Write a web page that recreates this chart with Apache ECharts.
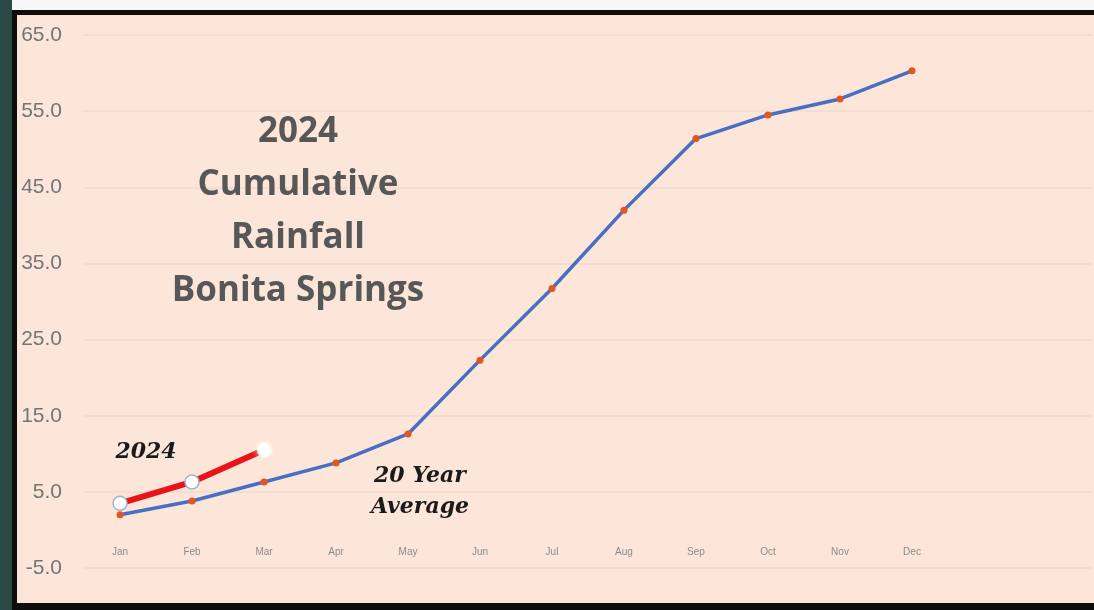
<!DOCTYPE html>
<html>
<head>
<meta charset="utf-8">
<script src="https://cdn.jsdelivr.net/npm/echarts@6/dist/echarts.min.js"></script>
<style>
html,body{margin:0;padding:0;background:#ffffff;}
#chart{width:1094px;height:610px;}
</style>
</head>
<body>
<div id="chart"></div>
<script>
const months = ['Jan','Feb','Mar','Apr','May','Jun','Jul','Aug','Sep','Oct','Nov','Dec','',''];
const avgValues = [2.0, 3.8, 6.3, 8.8, 12.6, 22.3, 31.7, 42.0, 51.4, 54.5, 56.6, 60.3];
const values2024 = [3.5, 6.3, 10.5];
const yTicks = { min: -5, max: 65, interval: 10 };
const titleLines = ['2024', 'Cumulative', 'Rainfall', 'Bonita Springs'];

const chart = echarts.init(document.getElementById('chart'));

const data2024 = values2024.map((v, i) => i === values2024.length - 1
  ? { value: v, itemStyle: { color: '#ffffff', borderColor: '#ffffff', borderWidth: 0, shadowColor: 'rgba(255,255,255,0.9)', shadowBlur: 6 } }
  : v);

const titleGraphics = titleLines.map((t, i) => ({
  type: 'text', x: 298, y: 132 + i * 53, z: 50,
  style: { text: t, fill: '#575757', font: 'bold 35px "Open Sans", Lato, sans-serif', align: 'center', verticalAlign: 'middle' }
}));

const serifFont = 'italic bold 22px "DejaVu Serif", "Liberation Serif", serif';

chart.setOption({
  backgroundColor: '#fce5d9',
  animation: false,
  grid: { left: 84, right: 2, top: 35, bottom: 42, containLabel: false },
  xAxis: {
    type: 'category',
    data: months,
    boundaryGap: true,
    axisLine: { show: false, onZero: false },
    axisTick: { show: false },
    axisLabel: { color: '#8c8c8c', fontSize: 10, margin: -21, fontFamily: '"Liberation Sans", sans-serif' },
    splitLine: { show: false }
  },
  yAxis: {
    type: 'value',
    min: yTicks.min, max: yTicks.max, interval: yTicks.interval,
    axisLine: { show: false },
    axisTick: { show: false },
    axisLabel: { color: '#757575', fontSize: 21, margin: 22, fontFamily: '"Liberation Sans", sans-serif',
      formatter: v => v.toFixed(1) },
    splitLine: { show: true, lineStyle: { color: '#f2d9cc', width: 1.5 } }
  },
  series: [
    {
      name: '20 Year Average', type: 'line', data: avgValues, z: 2,
      lineStyle: { color: '#4a6fc2', width: 3.5 },
      symbol: 'circle', symbolSize: 7,
      itemStyle: { color: '#e2571f', borderWidth: 0 }
    },
    {
      name: '2024', type: 'line', data: data2024, z: 3,
      lineStyle: { color: '#e8141a', width: 6 },
      symbol: 'circle', symbolSize: 14,
      itemStyle: { color: '#ffffff', borderColor: '#9fb3d6', borderWidth: 1.5 }
    }
  ],
  graphic: [
    ...titleGraphics,
    { type: 'text', x: 146, y: 452, z: 50,
      style: { text: '2024', fill: '#1a1a1a', font: serifFont, align: 'center', verticalAlign: 'middle' } },
    { type: 'text', x: 420, y: 476, z: 50,
      style: { text: '20 Year', fill: '#1a1a1a', font: serifFont, align: 'center', verticalAlign: 'middle' } },
    { type: 'text', x: 420, y: 507, z: 50,
      style: { text: 'Average', fill: '#1a1a1a', font: serifFont, align: 'center', verticalAlign: 'middle' } },
    { type: 'rect', z: 100, shape: { x: 0, y: 0, width: 1094, height: 10 }, style: { fill: '#f7f7f7' } },
    { type: 'rect', z: 100, shape: { x: 0, y: 0, width: 12, height: 610 }, style: { fill: '#2c4a45' } },
    { type: 'rect', z: 101, shape: { x: 12, y: 10, width: 1082, height: 5 }, style: { fill: '#0d0d0d' } },
    { type: 'rect', z: 101, shape: { x: 12, y: 10, width: 5, height: 600 }, style: { fill: '#0d0d0d' } },
    { type: 'rect', z: 101, shape: { x: 12, y: 603, width: 1082, height: 7 }, style: { fill: '#0d0d0d' } }
  ]
});
</script>
</body>
</html>
